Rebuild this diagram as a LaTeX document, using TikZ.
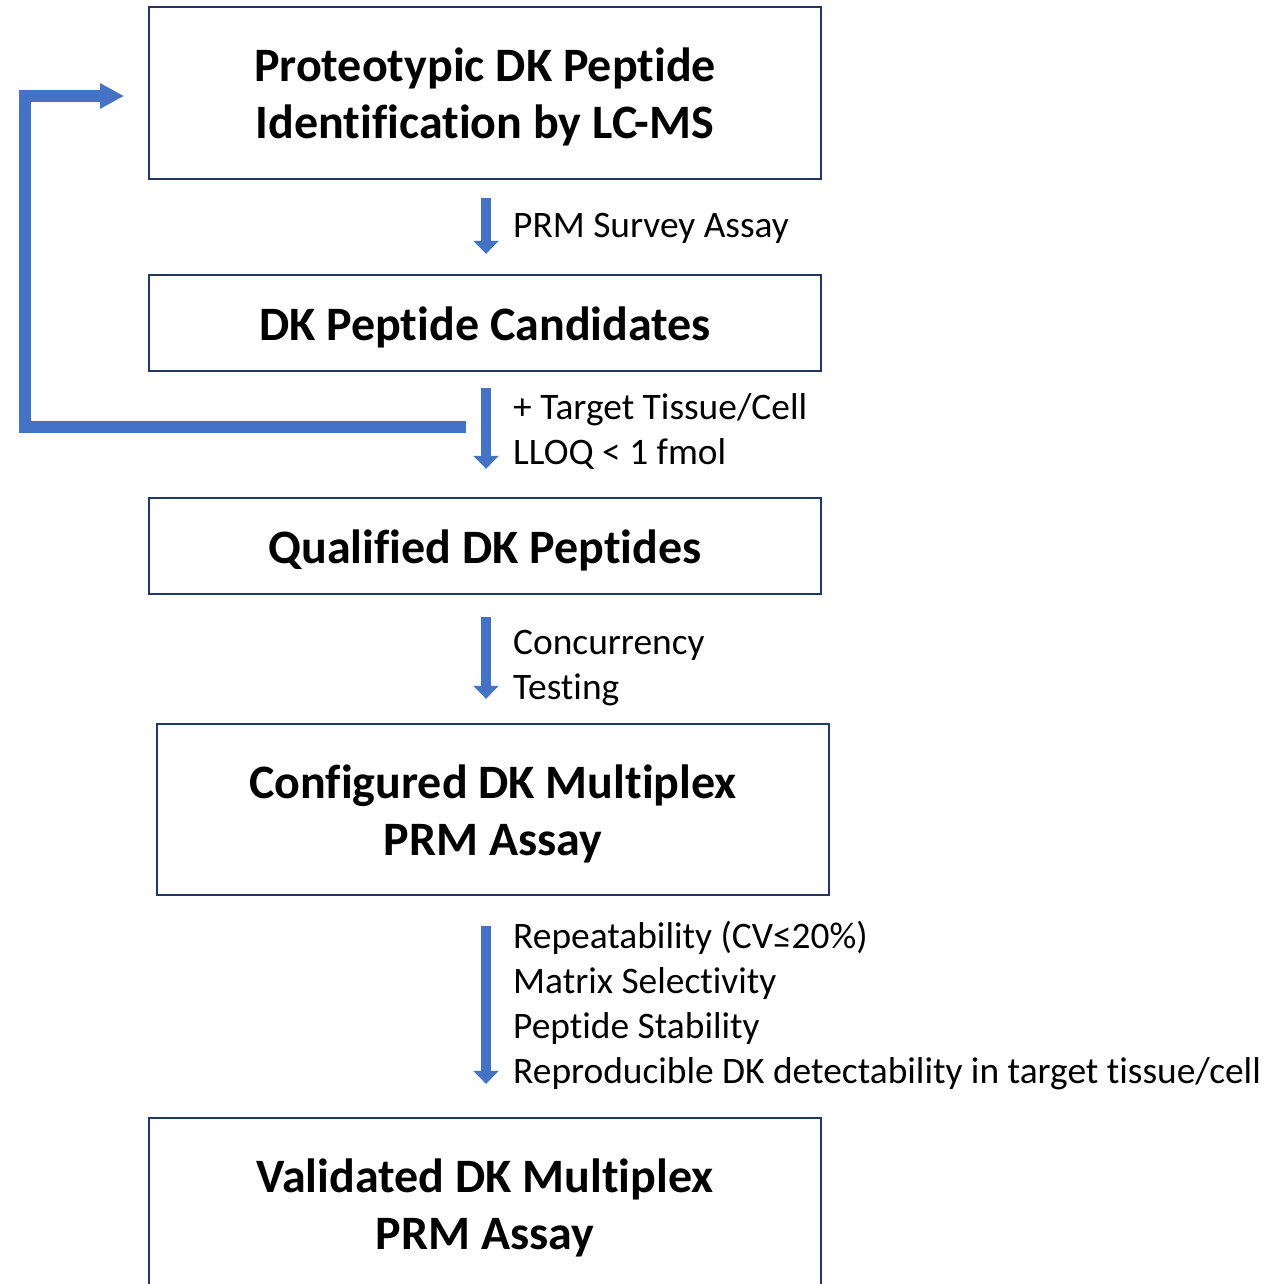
\documentclass[tikz,border=0pt]{standalone}
\usepackage{fontspec}
\setmainfont{Carlito}[RawFeature={-liga;-clig;-dlig;-calt}]
\usetikzlibrary{arrows.meta}
\definecolor{boxline}{HTML}{203864}
\definecolor{flowblue}{HTML}{4472C4}
\begin{document}
\begin{tikzpicture}[x=1pt,y=-1pt,
  stage/.style={draw=boxline,line width=2.4pt,minimum width=672pt,inner sep=0pt},
  title/.style={align=center,font=\fontsize{48}{57}\selectfont\bfseries,inner sep=0pt},
  steparrow/.style={draw=flowblue,line width=10pt,-{Triangle[width=25pt,length=13pt]}},
  looparrow/.style={draw=flowblue,line width=12pt,-{Triangle[width=24pt,length=24pt]}},
  note/.style={anchor=west,align=left,font=\fontsize{37.4}{45}\selectfont,inner sep=0pt}]
\clip (0,0) rectangle (1266,1284);
\useasboundingbox (0,0) rectangle (1266,1284);
% process stages
\node[stage,minimum height=172pt] (b1) at (485,93) {};
\node[stage,minimum height=96pt] (b2) at (485,323) {};
\node[stage,minimum height=96pt] (b3) at (485,546) {};
\node[stage,minimum height=171pt] (b4) at (493,809.5) {};
\node[stage,minimum height=172pt] (b5) at (485,1204) {};
% stage titles
\node[title] (t1) at ([yshift=-4pt]b1.center) {Proteotypic DK Peptide\\Identification by LC-MS};
\node[title] (t2) at ([yshift=-4pt]b2.center) {DK Peptide Candidates};
\node[title] (t3) at ([yshift=-4pt]b3.center) {Qualified DK Peptides};
\node[title] (t4) at ([yshift=-4pt]b4.center) {Configured DK Multiplex\\PRM Assay};
\node[title] (t5) at ([yshift=-4pt]b5.center) {Validated DK Multiplex\\PRM Assay};
% downward steps
\draw[steparrow,shorten <=18pt,shorten >=20pt] ([xshift=1pt]b1.south) -- ([xshift=1pt]b2.north);
\draw[steparrow,shorten <=16pt,shorten >=28pt] ([xshift=1pt]b2.south) -- ([xshift=1pt]b3.north);
\draw[steparrow,shorten <=22pt,shorten >=24pt] ([xshift=1pt]b3.south) -- ([xshift=1pt]b3.south |- b4.north);
\draw[steparrow,shorten <=30pt,shorten >=33pt] ([xshift=1pt]b5.north |- b4.south) -- ([xshift=1pt]b5.north);
% step conditions
\node[note] (n1) at (513,228) {PRM Survey Assay};
\node[note] (n2) at (513,431) {+ Target Tissue/Cell\\LLOQ < 1 fmol};
\node[note] (n3) at (513,668) {Concurrency\\Testing};
\node[note] (n4) at (513,1006) {Repeatability (CV≤20\%)\\Matrix Selectivity\\Peptide Stability\\Reproducible DK detectability in target tissue/cell};
% feedback loop back to identification
\coordinate (fbstart) at (466,427);
\coordinate (fbend) at (124,96);
\draw[looparrow,line join=miter] (fbstart) -- (25,427) |- (fbend);
\end{tikzpicture}
\end{document}
